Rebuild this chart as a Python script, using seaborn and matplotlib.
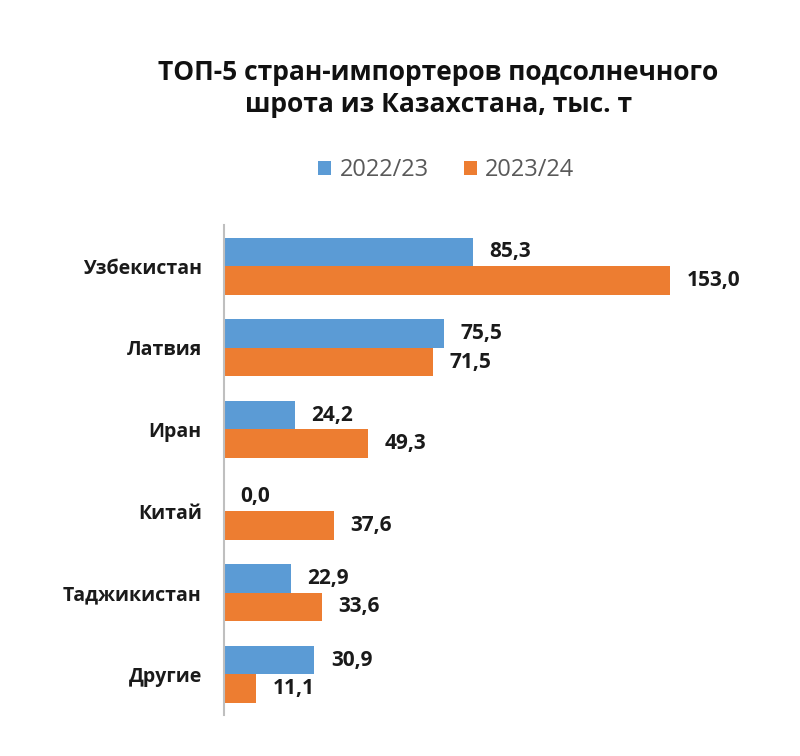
import matplotlib
matplotlib.use("Agg")
import matplotlib.pyplot as plt
import seaborn as sns
import pandas as pd
from matplotlib.patches import Patch

countries = ["Узбекистан", "Латвия", "Иран", "Китай", "Таджикистан", "Другие"]
seasons = ["2022/23", "2023/24"]
values_2022 = [85.3, 75.5, 24.2, 0.0, 22.9, 30.9]
values_2023 = [153.0, 71.5, 49.3, 37.6, 33.6, 11.1]
title = "ТОП-5 стран-импортеров подсолнечного\nшрота из Казахстана, тыс. т"

df = pd.DataFrame({
    "country": countries * 2,
    "season": [seasons[0]] * len(countries) + [seasons[1]] * len(countries),
    "value": values_2022 + values_2023,
})

sns.set_theme(style="white")
plt.rcParams['font.family'] = ['Open Sans', 'DejaVu Sans']

colors = ["#5B9BD5", "#ED7D31"]
fig = plt.figure(figsize=(8, 7.56), dpi=100)
ax = fig.add_axes([0.28, 0.054, 0.62, 0.648])

sns.barplot(data=df, y="country", x="value", hue="season", order=countries,
            hue_order=seasons, palette=colors, orient="h", width=0.7,
            saturation=1, ax=ax, legend=False, edgecolor="none")

for cont in ax.containers:
    labels = [f"{v:.1f}".replace(".", ",") for v in cont.datavalues]
    ax.bar_label(cont, labels=labels, padding=12, fontsize=15,
                 fontweight="bold", color="#1a1a1a")

ax.set_xlim(0, 170)
ax.set_ylim(5.5, -0.5)
ax.set_xlabel("")
ax.set_ylabel("")
ax.set_xticks([])
for s in ["top", "right", "bottom"]:
    ax.spines[s].set_visible(False)
ax.spines["left"].set_color("#bfbfbf")
ax.spines["left"].set_linewidth(1.5)
ax.tick_params(axis="y", length=0, pad=16)
for lbl in ax.get_yticklabels():
    lbl.set_fontweight("bold")
    lbl.set_fontsize(14)
    lbl.set_color("#1a1a1a")

fig.text(0.548, 0.883, title, ha="center", va="center", fontsize=19,
         fontweight="bold", color="#111111", linespacing=1.2)

handles = [Patch(facecolor=c, edgecolor="none") for c in colors]
fig.legend(handles, seasons, loc="center", bbox_to_anchor=(0.558, 0.775),
           ncol=2, frameon=False, fontsize=17, handlelength=0.55,
           handleheight=0.55, handletextpad=0.35, columnspacing=1.5,
           labelcolor="#595959")

fig.savefig("out.png", dpi=100, facecolor="white")
